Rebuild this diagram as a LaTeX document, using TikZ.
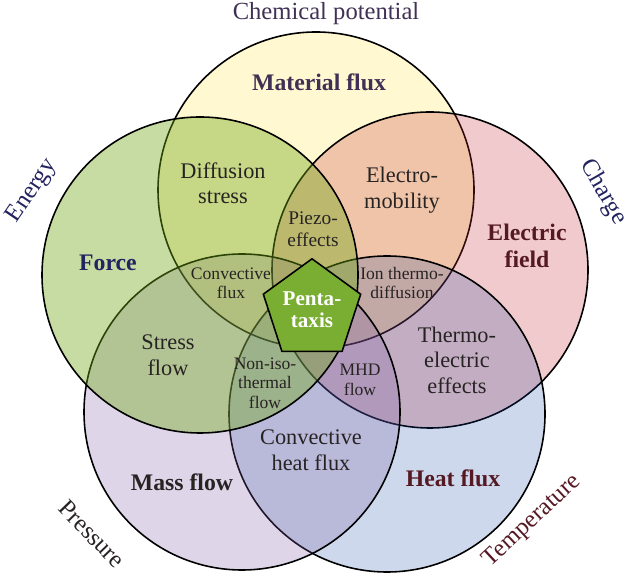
\documentclass[tikz,border=0pt]{standalone}
\usepackage{fontspec}
\setmainfont{Liberation Serif}
\usetikzlibrary{shapes.geometric}

\definecolor{cyellow}{RGB}{255,232,98}
\definecolor{cred}{RGB}{195,43,51}
\definecolor{cblue}{RGB}{10,60,160}
\definecolor{cpurple}{RGB}{123,91,163}
\definecolor{cgreen}{RGB}{112,168,22}
\definecolor{cpenta}{RGB}{122,174,50}
\definecolor{tnavy}{RGB}{35,35,95}
\definecolor{tplum}{RGB}{65,48,85}
\definecolor{tmaroon}{RGB}{85,25,35}
\definecolor{tdark}{RGB}{40,35,35}

\begin{document}
\begin{tikzpicture}[
    ring/.style={draw=black, line width=.9pt},
    axislabel/.style={font=\fontsize{14}{16}\selectfont, inner sep=1pt},
    biglabel/.style={font=\fontsize{13.5}{15}\selectfont\bfseries, align=center},
    midlabel/.style={font=\fontsize{12.7}{14.5}\selectfont, align=center, text=tdark},
    smalllabel/.style={font=\fontsize{10}{11}\selectfont, align=center, text=tdark},
]
    \useasboundingbox (0,0) rectangle (12.68,11.58);

    % circle centres
    \coordinate (cy) at (6.32,7.78);
    \coordinate (cr) at (8.60,6.18);
    \coordinate (cb) at (7.74,3.30);
    \coordinate (cp) at (4.84,3.34);
    \coordinate (cg) at (4.00,6.08);

    \draw [ring,fill=cyellow,fill opacity=.3] (cy) circle [radius=3.16];
    \draw [ring,fill=cred,fill opacity=.25] (cr) circle [radius=3.16];
    \draw [ring,fill=cblue,fill opacity=.2] (cb) circle [radius=3.16];
    \draw [ring,fill=cpurple,fill opacity=.25] (cp) circle [radius=3.16];
    \draw [ring,fill=cgreen,fill opacity=.4] (cg) circle [radius=3.16];

    % outer labels
    \node [axislabel,text=tplum] (chem) at (6.52,11.30) {Chemical potential};
    \node [axislabel,text=tnavy,rotate=56] (energy) at (0.64,7.76) {Energy};
    \node [axislabel,text=tnavy,rotate=-60] (charge) at (12.06,7.74) {Charge};
    \node [axislabel,text=tdark,rotate=-46] (pressure) at (1.84,0.90) {Pressure};
    \node [axislabel,text=tmaroon,rotate=43] (temp) at (10.64,1.16) {Temperature};

    % single circles
    \node [biglabel,text=tplum] (matflux) at (6.38,9.94) {Material flux};
    \node [biglabel,text=tnavy] (force) at (2.16,6.32) {Force};
    \node [biglabel,text=tmaroon] (efield) at (10.54,6.66) {Electric\\field};
    \node [biglabel,text=tdark] (massflow) at (3.64,1.94) {Mass flow};
    \node [biglabel,text=tmaroon] (heatflux) at (9.06,2.02) {Heat flux};

    % overlaps
    \node [midlabel] (diffstress) at (4.46,7.92) {Diffusion\\stress};
    \node [midlabel] (electromob) at (8.04,7.78) {Electro-\\mobility};
    \node [midlabel] (stressflow) at (3.36,4.48) {Stress\\flow};
    \node [midlabel] (thermoel) at (9.14,4.38) {Thermo-\\electric\\effects};
    \node [midlabel] (convheat) at (6.22,2.58) {Convective\\heat flux};
    \node [midlabel,font=\fontsize{11}{12.5}\selectfont] (piezo) at (6.26,7.00) {Piezo-\\effects};

    \node [smalllabel] (convflux) at (4.62,5.92) {Convective\\flux};
    \node [smalllabel] (ionthermo) at (8.04,5.92) {Ion thermo-\\diffusion};
    \node [smalllabel] (noniso) at (5.30,3.92) {Non-iso-\\thermal\\flow};
    \node [smalllabel] (mhd) at (7.20,3.98) {MHD\\flow};

    % centre
    \node [regular polygon,regular polygon sides=5,minimum size=1.8cm,inner sep=0pt,
           draw=black,line width=.9pt,fill=cpenta,text=white,align=center,
           font=\fontsize{12}{12.5}\selectfont\bfseries] (penta) at (6.24,5.38) {Penta-\\taxis};

\end{tikzpicture}
\end{document}
